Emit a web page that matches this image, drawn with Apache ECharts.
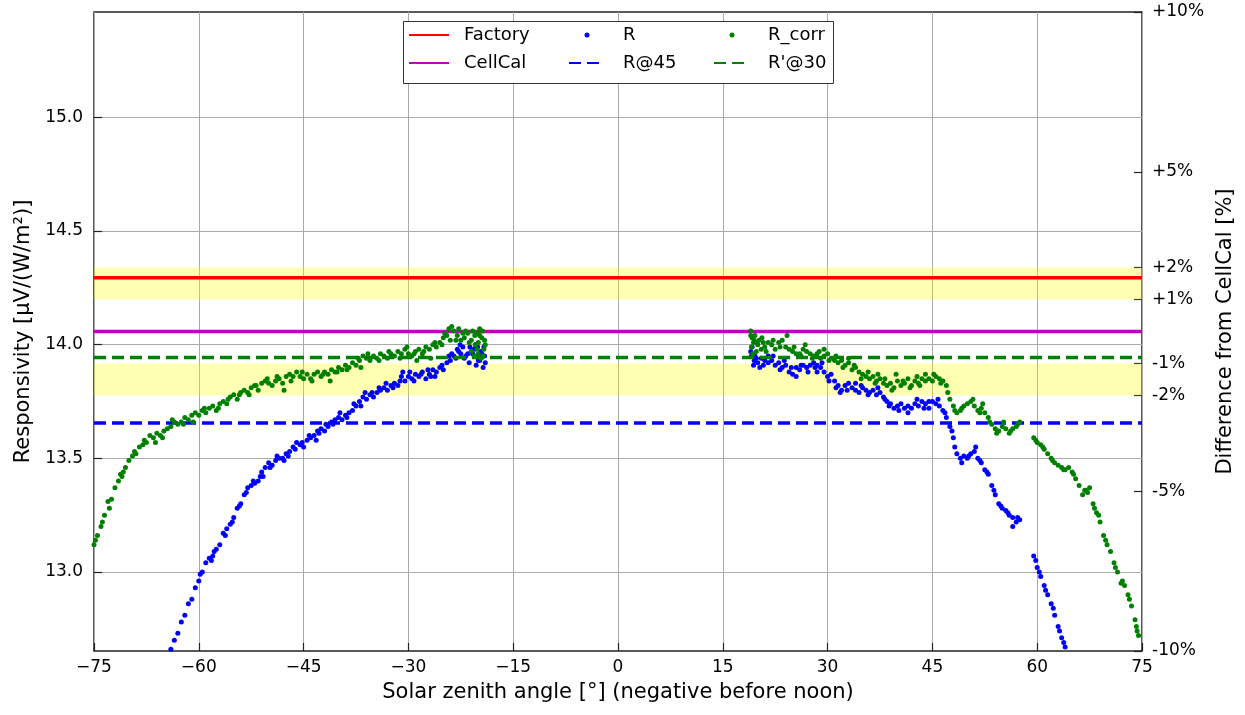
<!DOCTYPE html>
<html lang="en">
<head>
<meta charset="UTF-8"/>
<script src="https://cdn.jsdelivr.net/npm/echarts@6/dist/echarts.min.js"></script>
<title>Responsivity vs solar zenith angle</title>
<style>html,body{margin:0;padding:0;background:#fff;}</style>
</head>
<body>
<div id="main" style="width:1245px;height:715px;"></div>
<script type="text/javascript">
// reference levels [µV/(W/m²)]
var FACTORY = 14.294;
var CELLCAL = 14.058;
var R_AT_45 = 13.655;
var R_AT_30 = 13.944;
var X_MIN = -75, X_MAX = 75;

// yellow bands, percent from CellCal
var bands = [[1, 2], [-2, -1]];
var pctTicks = [10, 5, 2, 1, -1, -2, -5, -10];
var leftTicks = [13.0, 13.5, 14.0, 14.5, 15.0];

// morning, R (points below the axis are off the chart)
var amR = [[-64.0,12.66],[-63.5,12.70],[-63.0,12.73],[-62.5,12.78],[-62.0,12.81],[-61.5,12.86],[-61.0,12.88],[-60.5,12.93],
  [-60.0,12.96],[-59.5,13.00],[-59.0,13.04],[-58.5,13.06],[-58.0,13.07],[-57.5,13.10],[-57.0,13.12],[-56.5,13.17],
  [-56.0,13.19],[-55.5,13.21],[-55.0,13.24],[-54.5,13.28],[-54.0,13.30],[-53.5,13.34],[-53.0,13.37],[-52.5,13.38],
  [-52.0,13.39],[-51.5,13.40],[-51.0,13.44],[-50.5,13.46],[-50.0,13.48],[-49.5,13.47],[-49.0,13.49],[-48.5,13.50],
  [-48.0,13.50],[-47.5,13.52],[-47.0,13.53],[-46.5,13.55],[-46.0,13.57],[-45.5,13.56],[-45.0,13.55],[-44.5,13.58],
  [-44.0,13.59],[-43.5,13.60],[-43.0,13.62],[-42.5,13.63],[-42.0,13.62],[-41.5,13.64],[-41.0,13.66],[-40.5,13.67],
  [-40.0,13.68],[-39.5,13.67],[-39.0,13.69],[-38.5,13.70],[-38.0,13.71],[-37.5,13.73],[-37.0,13.75],[-36.5,13.77],
  [-36.0,13.76],[-35.5,13.78],[-35.0,13.77],[-34.5,13.79],[-34.0,13.80],[-33.5,13.81],[-33.0,13.80],[-32.5,13.82],
  [-32.0,13.83],[-31.5,13.82],[-31.0,13.86],[-30.5,13.84],[-30.0,13.86],[-29.5,13.85],[-29.0,13.87],[-28.5,13.86],
  [-28.0,13.88],[-27.5,13.85],[-27.0,13.87],[-26.5,13.89],[-26.0,13.88],[-25.5,13.90],[-25.0,13.89],[-24.5,13.92],
  [-24.0,13.93],[-23.5,13.95],[-23.0,13.98],[-22.5,13.96],[-22.0,13.94],[-21.5,13.96],[-21.0,13.97],[-20.5,13.95],
  [-20.0,13.93],[-19.5,13.96],[-19.0,13.92],
  [-22.8,13.97],[-22.2,13.99],[-21.8,13.95],[-21.3,13.92],[-20.8,13.96],[-20.6,13.98],[-20.3,13.91],[-20.1,13.99],
  [-19.8,13.93],[-19.6,13.97],[-19.3,13.90],[-19.1,13.95],[-19.2,13.99],[-56.2,13.16],[-50.8,13.42],[-47.8,13.49],
  [-43.2,13.58],[-36.8,13.73],[-30.8,13.88],[-26.8,13.86],
  [-59.8,12.99],[-58.2,13.05],[-57.8,13.09],[-55.2,13.22],[-54.2,13.29],[-53.2,13.35],[-52.2,13.40],[-51.2,13.42],
  [-49.8,13.46],[-48.8,13.51],[-47.2,13.51],[-46.2,13.54],[-45.2,13.57],[-44.2,13.60],[-42.8,13.61],[-41.8,13.65],
  [-40.8,13.65],[-39.8,13.70],[-38.8,13.68],[-37.8,13.74],[-36.2,13.79],[-35.2,13.79],[-34.2,13.81],[-33.2,13.83],
  [-32.2,13.81],[-31.2,13.84],[-29.8,13.88],[-29.2,13.84],[-28.2,13.87],[-27.2,13.89],[-26.2,13.86],[-25.2,13.91],
  [-24.2,13.95],[-23.8,13.96],[-23.2,13.94],[-22.6,14.00],[-21.2,13.99],[-20.4,14.00]];

// morning, R_corr
var amRcorr = [[-75.0,13.12],[-74.5,13.16],[-74.0,13.20],[-73.5,13.25],[-73.0,13.31],[-72.5,13.32],[-72.0,13.37],[-71.5,13.40],
  [-71.0,13.42],[-70.5,13.46],[-70.0,13.49],[-69.5,13.51],[-69.0,13.52],[-68.5,13.55],[-68.0,13.56],[-67.5,13.57],
  [-67.0,13.60],[-66.5,13.59],[-66.0,13.61],[-65.5,13.60],[-65.0,13.62],[-64.5,13.63],[-64.0,13.64],[-63.5,13.66],
  [-63.0,13.65],[-62.5,13.66],[-62.0,13.68],[-61.5,13.67],[-61.0,13.69],[-60.5,13.70],[-60.0,13.69],[-59.5,13.71],
  [-59.0,13.70],[-58.5,13.72],[-58.0,13.73],[-57.5,13.71],[-57.0,13.74],[-56.5,13.75],[-56.0,13.74],[-55.5,13.77],
  [-55.0,13.78],[-54.5,13.76],[-54.0,13.79],[-53.5,13.80],[-53.0,13.79],[-52.5,13.81],[-52.0,13.82],[-51.5,13.80],
  [-51.0,13.83],[-50.5,13.84],[-50.0,13.83],[-49.5,13.82],[-49.0,13.84],[-48.5,13.85],[-48.0,13.83],[-47.5,13.86],
  [-47.0,13.87],[-46.5,13.86],[-46.0,13.88],[-45.5,13.86],[-45.0,13.85],[-44.5,13.87],[-44.0,13.85],[-43.5,13.87],
  [-43.0,13.88],[-42.5,13.86],[-42.0,13.88],[-41.5,13.87],[-41.0,13.89],[-40.5,13.88],[-40.0,13.90],[-39.5,13.89],
  [-39.0,13.91],[-38.5,13.90],[-38.0,13.92],[-37.5,13.91],[-37.0,13.93],[-36.5,13.95],[-36.0,13.94],[-35.5,13.93],
  [-35.0,13.95],[-34.5,13.94],[-34.0,13.96],[-33.5,13.95],[-33.0,13.94],[-32.5,13.96],[-32.0,13.95],[-31.5,13.97],
  [-31.0,13.96],[-30.5,13.98],[-30.0,13.96],[-29.5,13.95],[-29.0,13.97],[-28.5,13.98],[-28.0,13.96],[-27.5,13.99],
  [-27.0,13.98],[-26.5,14.00],[-26.0,13.99],[-25.5,14.01],[-25.0,14.03],[-24.5,14.04],[-24.0,14.02],[-23.5,14.06],
  [-23.0,14.04],[-22.5,14.02],[-22.0,14.03],[-21.5,14.05],[-21.0,14.02],[-20.5,14.04],[-20.0,14.01],[-19.5,14.03],
  [-19.0,14.00],
  [-23.8,14.08],[-22.8,14.07],[-21.3,14.01],[-21.0,13.97],[-20.8,14.06],[-20.6,13.95],[-20.4,14.00],[-20.2,14.05],
  [-20.0,13.96],[-19.8,14.04],[-19.6,13.94],[-19.4,14.06],[-19.3,13.95],[-19.2,13.98],[-19.1,14.02],[-73.8,13.22],
  [-70.8,13.44],[-66.2,13.57],[-60.8,13.66],[-47.8,13.80],[-41.2,13.84],[-36.8,13.90],[-28.8,13.93],[-26.8,13.94],
  [-74.8,13.14],[-72.8,13.28],[-71.2,13.43],[-69.2,13.53],[-67.8,13.58],[-65.2,13.59],[-63.8,13.67],[-62.2,13.65],
  [-59.2,13.72],[-57.2,13.72],[-55.8,13.76],[-54.2,13.78],[-52.8,13.78],[-51.8,13.82],[-50.2,13.85],[-48.8,13.86],
  [-46.8,13.84],[-45.2,13.88],[-43.8,13.84],[-42.2,13.87],[-40.2,13.88],[-38.8,13.89],[-37.2,13.94],[-35.8,13.96],
  [-34.2,13.93],[-32.8,13.97],[-31.2,13.94],[-30.2,13.99],[-29.2,13.96],[-27.8,13.97],[-26.2,14.01],[-25.2,14.00],
  [-24.8,14.05],[-24.2,14.07],[-23.2,14.02],[-22.2,14.05],[-21.8,14.06],[-20.2,13.98],[-19.8,14.07]];

// afternoon, R
var pmR = [[19.0,13.97],[19.5,13.93],[20.0,13.92],[20.5,13.94],[21.0,13.93],[21.5,13.92],[22.0,13.93],[22.5,13.91],
  [23.0,13.92],[23.5,13.90],[24.0,13.91],[24.5,13.88],[25.0,13.87],[25.5,13.90],[26.0,13.89],[26.5,13.91],
  [27.0,13.90],[27.5,13.91],[28.0,13.92],[28.5,13.91],[29.0,13.90],[29.5,13.88],[30.0,13.86],[30.5,13.87],
  [31.0,13.84],[31.5,13.82],[32.0,13.80],[32.5,13.82],[33.0,13.83],[33.5,13.81],[34.0,13.80],[34.5,13.79],
  [35.0,13.81],[35.5,13.80],[36.0,13.79],[36.5,13.80],[37.0,13.78],[37.5,13.79],[38.0,13.77],[38.5,13.75],
  [39.0,13.74],[39.5,13.72],[40.0,13.73],[40.5,13.74],[41.0,13.72],[41.5,13.73],[42.0,13.72],[42.5,13.74],
  [43.0,13.73],[43.5,13.75],[44.0,13.74],[44.5,13.75],[45.0,13.75],[45.5,13.74],[46.0,13.73],[46.5,13.71],
  [47.0,13.68],[47.5,13.64],[48.0,13.59],[48.5,13.52],[49.0,13.50],[49.5,13.51],[50.0,13.50],[50.5,13.52],
  [51.0,13.53],[51.5,13.50],[52.0,13.48],[52.5,13.45],[53.0,13.43],[53.5,13.38],[54.0,13.34],[54.5,13.30],
  [55.0,13.28],[55.5,13.27],[56.0,13.25],[56.5,13.24],[57.0,13.22],[57.5,13.23],
  [59.5,13.07],[60.0,13.02],[60.5,12.98],[61.0,12.94],[61.5,12.90],[62.0,12.86],[62.5,12.81],[63.0,12.76],
  [63.5,12.71],[64.0,12.67],
  [19.1,13.95],[19.2,13.99],[19.4,13.91],[19.6,13.95],[20.3,13.90],[21.5,13.95],[23.8,13.93],[25.5,13.86],
  [28.5,13.88],[31.8,13.79],[34.0,13.83],[38.2,13.76],[41.5,13.70],[44.5,13.72],[49.2,13.48],[51.2,13.55],
  [56.5,13.20],[60.3,13.00],[62.3,12.84],
  [19.8,13.94],[20.8,13.91],[22.2,13.95],[23.2,13.89],[24.8,13.90],[26.2,13.91],[27.2,13.88],[28.2,13.90],
  [29.2,13.92],[30.2,13.84],[31.2,13.81],[32.8,13.80],[34.8,13.82],[35.8,13.78],[37.2,13.81],[38.8,13.73],
  [40.2,13.71],[42.8,13.76],[43.8,13.72],[45.8,13.76],[46.8,13.70],[47.8,13.62],[48.2,13.55],[50.2,13.51],
  [51.8,13.49],[52.8,13.44],[53.8,13.36],[54.8,13.29],[55.8,13.26],[57.2,13.24],[59.8,13.05],[61.2,12.92],
  [63.2,12.74],[63.8,12.69]];

// afternoon, R_corr
var pmRcorr = [[19.0,14.06],[19.5,14.02],[20.0,14.00],[20.5,13.98],[21.0,13.99],[21.5,14.01],[22.0,14.00],[22.5,13.98],
  [23.0,14.01],[23.5,14.02],[24.0,13.99],[24.5,13.98],[25.0,13.97],[25.5,13.96],[26.0,13.96],[26.5,13.98],
  [27.0,13.97],[27.5,13.96],[28.0,13.95],[28.5,13.96],[29.0,13.94],[29.5,13.95],[30.0,13.96],[30.5,13.94],
  [31.0,13.93],[31.5,13.92],[32.0,13.93],[32.5,13.91],[33.0,13.92],[33.5,13.89],[34.0,13.90],[34.5,13.88],
  [35.0,13.87],[35.5,13.86],[36.0,13.85],[36.5,13.86],[37.0,13.84],[37.5,13.85],[38.0,13.83],[38.5,13.82],
  [39.0,13.83],[39.5,13.81],[40.0,13.84],[40.5,13.82],[41.0,13.83],[41.5,13.85],[42.0,13.82],[42.5,13.84],
  [43.0,13.83],[43.5,13.85],[44.0,13.84],[44.5,13.85],[45.0,13.84],[45.5,13.86],[46.0,13.85],[46.5,13.84],
  [47.0,13.82],[47.5,13.76],[48.0,13.73],[48.5,13.70],[49.0,13.71],[49.5,13.73],[50.0,13.74],[50.5,13.75],
  [51.0,13.73],[51.5,13.71],[52.0,13.72],[52.5,13.70],[53.0,13.68],[53.5,13.65],[54.0,13.63],[54.5,13.62],
  [55.0,13.64],[55.5,13.63],[56.0,13.61],[56.5,13.63],[57.0,13.64],[57.5,13.66],
  [59.5,13.59],[60.0,13.57],[60.5,13.56],[61.0,13.54],[61.5,13.52],[62.0,13.50],[62.5,13.48],[63.0,13.47],
  [63.5,13.46],[64.0,13.45],[64.5,13.46],[65.0,13.44],[65.5,13.41],[66.0,13.38],[66.5,13.34],[67.0,13.36],
  [67.5,13.37],[68.0,13.30],[68.5,13.26],[69.0,13.22],[69.5,13.16],[70.0,13.12],[70.5,13.09],[71.0,13.04],
  [71.5,13.00],[72.0,12.95],[72.5,12.94],[73.0,12.90],[73.5,12.85],[74.0,12.79],[74.5,12.72],
  [19.0,14.04],[19.1,13.99],[19.2,14.03],[19.3,13.96],[19.4,14.01],[19.6,14.04],[19.8,13.97],[20.2,14.02],
  [20.6,14.03],[21.2,13.97],[24.2,14.04],[26.8,14.00],[29.5,13.98],[33.0,13.94],[37.2,13.87],[39.8,13.87],
  [44.0,13.87],[52.2,13.74],[55.2,13.66],[66.8,13.36],[68.8,13.25],[74.2,12.76],
  [19.9,14.01],[20.8,14.01],[22.2,14.02],[23.2,13.99],[25.2,13.99],[26.2,13.95],[27.8,13.94],[28.8,13.97],
  [30.2,13.93],[31.2,13.95],[32.2,13.90],[33.8,13.91],[34.8,13.85],[35.8,13.88],[36.8,13.83],[38.2,13.85],
  [39.2,13.80],[40.8,13.84],[41.8,13.81],[42.8,13.86],[43.2,13.82],[45.2,13.87],[46.2,13.83],[47.2,13.79],
  [48.2,13.71],[49.2,13.72],[50.8,13.76],[51.8,13.70],[53.2,13.66],[54.2,13.61],[56.2,13.62],[57.2,13.65],
  [59.8,13.58],[60.8,13.55],[62.2,13.49],[63.8,13.45],[65.2,13.43],[67.2,13.35],[68.2,13.28],[69.8,13.14],
  [71.2,13.02],[72.2,12.96],[73.2,12.88],[74.3,12.74]];

var FONT = 'DejaVu Sans';
var myChart = echarts.init(document.getElementById('main'));

function hline(v) { return [[X_MIN, v], [X_MAX, v]]; }

var bandAreas = bands.map(function (b) {
    return [{ yAxis: CELLCAL * (1 + b[0] / 100) }, { yAxis: CELLCAL * (1 + b[1] / 100) }];
});

var legendBase = {
    orient: 'vertical', top: 25, itemGap: 8, padding: 0,
    textStyle: { fontFamily: FONT, fontSize: 18, lineHeight: 20, color: '#000' },
    selectedMode: false
};

option = {
    animation: false,
    backgroundColor: '#fff',
    grid: { left: 94, right: 103, top: 12, bottom: 64, show: true, borderColor: '#222', borderWidth: 1.5 },
    graphic: [{
        type: 'rect', left: 403, top: 21, z: 3,
        shape: { width: 430, height: 62 },
        style: { fill: '#fff', stroke: '#333', lineWidth: 1 }
    }],
    legend: [
        Object.assign({}, legendBase, { left: 408, itemWidth: 40, itemHeight: 1,
            textStyle: Object.assign({}, legendBase.textStyle, { padding: [0, 0, 0, 10] }),
            data: [{ name: 'Factory', itemStyle: { color: 'rgba(0,0,0,0)' } },
                   { name: 'CellCal', itemStyle: { color: 'rgba(0,0,0,0)' } }] }),
        Object.assign({}, legendBase, { left: 568, itemWidth: 36, itemHeight: 5,
            textStyle: Object.assign({}, legendBase.textStyle, { padding: [0, 0, 0, 13] }),
            data: ['R', { name: 'R@45', itemStyle: { color: 'rgba(0,0,0,0)' } }] }),
        Object.assign({}, legendBase, { left: 713, itemWidth: 36, itemHeight: 5,
            textStyle: Object.assign({}, legendBase.textStyle, { padding: [0, 0, 0, 13] }),
            data: ['R_corr', { name: "R'@30", itemStyle: { color: 'rgba(0,0,0,0)' } }] })
    ],
    xAxis: {
        type: 'value', min: X_MIN, max: X_MAX, interval: 15,
        name: 'Solar zenith angle [°] (negative before noon)',
        nameLocation: 'middle', nameGap: 31,
        nameTextStyle: { fontFamily: FONT, fontSize: 21, color: '#000' },
        axisLine: { show: false, onZero: false },
        axisTick: { inside: true, length: 8, lineStyle: { color: '#222', width: 1.2 } },
        axisLabel: { margin: 8, fontFamily: FONT, fontSize: 17, color: '#000',
            formatter: function (v) { return v < 0 ? '\u2212' + (-v) : String(v); } },
        splitLine: { show: true, lineStyle: { color: '#aaaaaa', width: 1 } }
    },
    yAxis: [{
        type: 'value', min: CELLCAL * 0.9, max: CELLCAL * 1.1,
        name: 'Responsivity [µV/(W/m²)]',
        nameLocation: 'middle', nameGap: 59, nameRotate: 90,
        nameTextStyle: { fontFamily: FONT, fontSize: 21, color: '#000' },
        axisLine: { show: false, onZero: false },
        axisTick: { inside: true, length: 8, customValues: leftTicks, lineStyle: { color: '#222', width: 1.2 } },
        axisLabel: { margin: 11, fontFamily: FONT, fontSize: 17, color: '#000', customValues: leftTicks,
            formatter: function (v) { return v.toFixed(1); } },
        splitLine: { show: true, lineStyle: { color: '#aaaaaa', width: 1 } }
    }, {
        type: 'value', min: -10, max: 10, position: 'right',
        name: 'Difference from CellCal [%]',
        nameLocation: 'middle', nameGap: 70, nameRotate: 90,
        nameTextStyle: { fontFamily: FONT, fontSize: 21, color: '#000' },
        axisLine: { show: false, onZero: false },
        axisTick: { inside: true, length: 8, customValues: pctTicks, lineStyle: { color: '#222', width: 1.2 } },
        axisLabel: { margin: 10, fontFamily: FONT, fontSize: 17, color: '#000', customValues: pctTicks,
            formatter: function (v) { return (v > 0 ? '+' : '') + v + '%'; } },
        splitLine: { show: false }
    }],
    series: [
        {
            name: 'Factory', type: 'line', data: hline(FACTORY), symbol: 'none', z: 2,
            lineStyle: { color: '#ff0000', width: 3.5 }, itemStyle: { color: '#ff0000' }
        },
        {
            name: 'CellCal', type: 'line', data: hline(CELLCAL), symbol: 'none', z: 2,
            lineStyle: { color: '#bf00bf', width: 3.5 }, itemStyle: { color: '#bf00bf' },
            markArea: { silent: true, itemStyle: { color: 'rgba(255,255,0,0.3)' }, data: bandAreas }
        },
        {
            name: 'R', type: 'scatter', data: amR.concat(pmR), symbolSize: 5, z: 3,
            itemStyle: { color: '#0000ff', opacity: 1 }
        },
        {
            name: 'R@45', type: 'line', data: hline(R_AT_45), symbol: 'none', z: 3,
            lineStyle: { color: '#0000ff', width: 3.5, type: [12, 6] }, itemStyle: { color: '#0000ff' }
        },
        {
            name: 'R_corr', type: 'scatter', data: amRcorr.concat(pmRcorr), symbolSize: 5, z: 4,
            itemStyle: { color: '#008000', opacity: 1 }
        },
        {
            name: "R'@30", type: 'line', data: hline(R_AT_30), symbol: 'none', z: 4,
            lineStyle: { color: '#008000', width: 3.5, type: [12, 6] }, itemStyle: { color: '#008000' }
        }
    ]
};

myChart.setOption(option);
</script>
</body>
</html>
